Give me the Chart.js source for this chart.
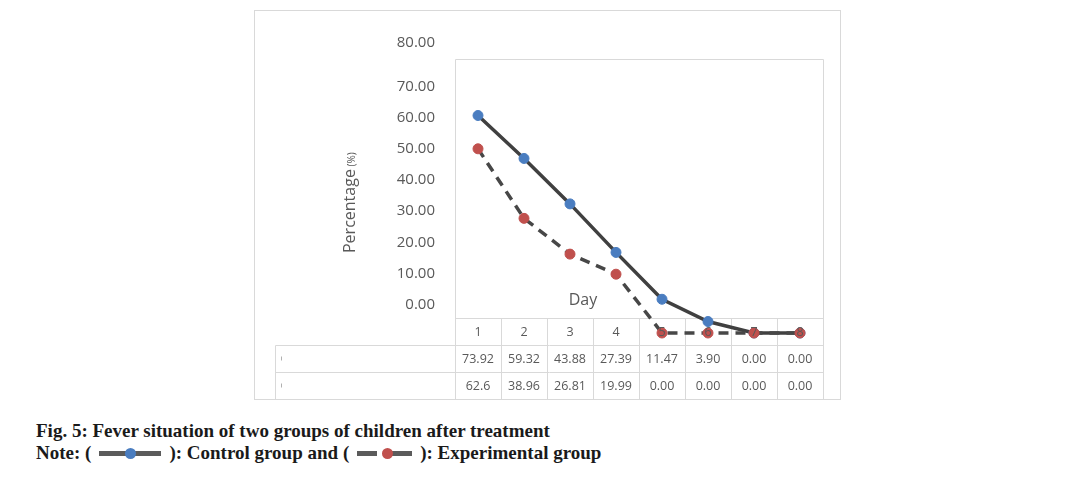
<!DOCTYPE html>
<html lang="en">
<head>
<meta charset="utf-8">
<title>Fig. 5 - Fever situation</title>
<script src="https://cdn.jsdelivr.net/npm/chart.js@4.4.1/dist/chart.umd.min.js"></script>
<style>
  body { margin: 0; background: #fff; }
  #wrap { position: relative; width: 1071px; height: 477px; overflow: hidden; }
  #chart { position: absolute; left: 0; top: 0; }
  .cap { position: absolute; left: 36px; font-family: 'Liberation Serif', 'Times New Roman', serif;
         font-weight: bold; font-size: 19px; line-height: 22px; color: #1a1a1a; white-space: nowrap; }
  .key { display: inline-block; position: relative; height: 12px; vertical-align: -1px; margin: 0 8px; }
  .key i { position: absolute; top: 3px; height: 5px; background: #5b5b5b; }
  .key b { position: absolute; top: 0; width: 11px; height: 11px; border-radius: 50%; }
</style>
</head>
<body>
<div id="wrap">
  <canvas id="chart" width="1071" height="410"></canvas>
  <div class="cap" style="top:420px">Fig. 5: Fever situation of two groups of children after treatment</div>
  <div class="cap" style="top:442px">Note: (<span class="key" style="width:62px"><i style="left:0;width:62px"></i><b style="left:26px;background:#4a7dc0"></b></span>): Control group and (<span class="key" style="width:55px"><i style="left:0;width:20px"></i><i style="left:34px;width:21px"></i><b style="left:25px;background:#c0504d"></b></span>): Experimental group</div>
</div>

<script>
// data
var days = ['1', '2', '3', '4', '5', '6', '7', '8'];
var control = [73.92, 59.32, 43.88, 27.39, 11.47, 3.90, 0, 0];
var experimental = [62.6, 38.96, 26.81, 19.99, 0, 0, 0, 0];
// text in the data table under the plot
var controlText = ['73.92', '59.32', '43.88', '27.39', '11.47', '3.90', '0.00', '0.00'];
var experimentalText = ['62.6', '38.96', '26.81', '19.99', '0.00', '0.00', '0.00', '0.00'];
// left axis labels (they sit out of step with the plotted values in the original)
var yTickLabels = ['80.00', '70.00', '60.00', '50.00', '40.00', '30.00', '20.00', '10.00', '0.00'];

// where each left label sits, in px above the plot bottom
var yTickOffsets = [290, 246, 215, 184, 153, 122, 90, 59, 28];

var FONT = "'Open Sans', 'Noto Sans', sans-serif";
var GREY_TXT = '#595959';
var LINE = '#d9d9d9';

var figurePlugin = {
  id: 'figure',
  beforeDatasetsDraw: function(chart) {
    var ctx = chart.ctx, ca = chart.chartArea, x = chart.scales.x;
    var half = (x.getPixelForValue(1) - x.getPixelForValue(0)) / 2;
    var left = Math.round(x.getPixelForValue(0) - half) + 0.5;
    var right = Math.round(x.getPixelForValue(days.length - 1) + half) + 0.5;
    var hdr = Math.round(ca.bottom) - 14.5, r1 = hdr + 27, r2 = r1 + 27, bot = r2 + 27;

    ctx.save();
    ctx.strokeStyle = LINE;
    ctx.lineWidth = 1;
    // outer frame
    ctx.strokeRect(254.5, 10.5, 586, bot - 10.5);
    // plot box + table
    ctx.beginPath();
    ctx.moveTo(left, 59.5); ctx.lineTo(right, 59.5); ctx.lineTo(right, bot);
    ctx.moveTo(left, 59.5); ctx.lineTo(left, bot);
    ctx.moveTo(left, hdr); ctx.lineTo(right, hdr);
    ctx.moveTo(275.5, r1); ctx.lineTo(right, r1);
    ctx.moveTo(275.5, r2); ctx.lineTo(right, r2);
    ctx.moveTo(275.5, r1); ctx.lineTo(275.5, bot);
    for (var i = 1; i < days.length; i++) {
      var cx = Math.round(x.getPixelForValue(i) - half) + 0.5;
      ctx.moveTo(cx, hdr); ctx.lineTo(cx, bot);
    }
    ctx.stroke();
    // stubs left of the empty legend keys
    ctx.strokeStyle = '#b0b0b0';
    ctx.beginPath();
    ctx.moveTo(281.5, r1 + 11); ctx.lineTo(281.5, r1 + 15);
    ctx.moveTo(281.5, r2 + 11); ctx.lineTo(281.5, r2 + 15);
    ctx.stroke();

    // y title
    ctx.fillStyle = GREY_TXT;
    ctx.translate(355, 253);
    ctx.rotate(-Math.PI / 2);
    ctx.textAlign = 'left';
    ctx.textBaseline = 'alphabetic';
    ctx.font = '16px ' + FONT;
    ctx.fillText('Percentage', 0, 0);
    var w = ctx.measureText('Percentage').width;
    ctx.font = '10px ' + FONT;
    ctx.fillText(' (%)', w, 0);
    ctx.restore();

    // x title
    ctx.save();
    ctx.fillStyle = GREY_TXT;
    ctx.font = '16px ' + FONT;
    ctx.textAlign = 'center';
    ctx.textBaseline = 'middle';
    ctx.fillText('Day', 583, 300);
    ctx.restore();
  },
  afterDatasetsDraw: function(chart) {
    var ctx = chart.ctx, ca = chart.chartArea, x = chart.scales.x;
    var b = Math.round(ca.bottom);
    ctx.save();
    ctx.fillStyle = GREY_TXT;
    ctx.font = '12.5px ' + FONT;
    ctx.textAlign = 'center';
    ctx.textBaseline = 'middle';
    for (var i = 0; i < days.length; i++) {
      var cx = x.getPixelForValue(i);
      ctx.fillText(days[i], cx, b - 1);
      ctx.fillText(controlText[i], cx, b + 26);
      ctx.fillText(experimentalText[i], cx, b + 53);
    }
    ctx.restore();
  }
};

var ctx = document.getElementById('chart').getContext('2d');
var myChart = new Chart(ctx, {
  type: 'line',
  data: {
    labels: days,
    datasets: [
      {
        label: 'Experimental group',
        data: experimental,
        borderColor: '#474747',
        borderWidth: 3.5,
        borderDash: [10, 7],
        pointRadius: 5,
        pointBackgroundColor: '#c0504d',
        pointBorderColor: '#c0504d',
        pointBorderWidth: 1,
        tension: 0,
        clip: false,
        yAxisID: 'y'
      },
      {
        label: 'Control group',
        data: control,
        borderColor: '#404040',
        borderWidth: 3.5,
        pointRadius: 5,
        pointBackgroundColor: '#4a7dc0',
        pointBorderColor: '#4a7dc0',
        pointBorderWidth: 1,
        tension: 0,
        clip: false,
        yAxisID: 'y'
      }
    ]
  },
  options: {
    responsive: false,
    animation: false,
    layout: { padding: { left: 355, right: 248, top: 42, bottom: 77 } },
    plugins: { legend: { display: false }, tooltip: { enabled: false } },
    scales: {
      x: { display: false, offset: true },
      y: { display: false, min: 0, max: 98.9 },
      yl: {
        position: 'left',
        min: 0,
        max: 291,
        grid: { display: false, drawTicks: false },
        border: { display: false },
        afterBuildTicks: function(s) {
          s.ticks = yTickOffsets.map(function(v) { return { value: v }; });
        },
        afterFit: function(s) { s.width = 100; },
        ticks: {
          autoSkip: false,
          padding: 20,
          color: GREY_TXT,
          font: { family: FONT, size: 15 },
          callback: function(v, i) { return yTickLabels[i]; }
        }
      }
    }
  },
  plugins: [figurePlugin]
});
</script>
</body>
</html>
